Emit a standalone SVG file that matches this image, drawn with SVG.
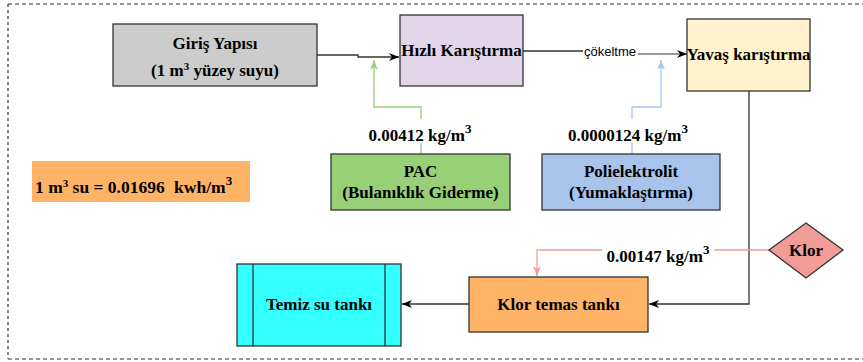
<svg xmlns="http://www.w3.org/2000/svg" width="863" height="362" viewBox="0 0 863 362">
<defs>
<style>
.t{font-family:"Liberation Serif","Times New Roman","DejaVu Serif",serif;font-weight:bold;font-size:17px;fill:#000;text-anchor:middle}
.s{font-family:"Liberation Sans",Arial,sans-serif;font-size:13px;fill:#000;text-anchor:middle}
.box{stroke:#333;stroke-width:1.3}
.e{fill:none;stroke-width:1.3}
</style>
<marker id="ak" viewBox="0 0 10 10" refX="10" refY="5" markerWidth="10" markerHeight="10" orient="auto" markerUnits="userSpaceOnUse"><path d="M0,1 L10,5 L0,9 L3,5 Z" fill="#000"/></marker>
<marker id="ag" viewBox="0 0 10 10" refX="10" refY="5" markerWidth="10" markerHeight="10" orient="auto" markerUnits="userSpaceOnUse"><path d="M0,1 L10,5 L0,9 L3,5 Z" fill="#97d077"/></marker>
<marker id="ab" viewBox="0 0 10 10" refX="10" refY="5" markerWidth="10" markerHeight="10" orient="auto" markerUnits="userSpaceOnUse"><path d="M0,1 L10,5 L0,9 L3,5 Z" fill="#a9c4eb"/></marker>
<marker id="ap" viewBox="0 0 10 10" refX="10" refY="5" markerWidth="10" markerHeight="10" orient="auto" markerUnits="userSpaceOnUse"><path d="M0,1 L10,5 L0,9 L3,5 Z" fill="#f19c99"/></marker>
</defs>
<rect width="863" height="362" fill="#fff"/>
<g id="border" fill="none" stroke="#333" stroke-width="1.2">
<path d="M8,4 H863" stroke-dasharray="4,3"/>
<path d="M8,359 H863" stroke-dasharray="4,3"/>
<path d="M8,4 V359" stroke-dasharray="3,3"/>
</g>
<g id="connectors">
<path class="e" d="M317,55 H358 V57 H399" stroke="#333" marker-end="url(#ak)"/>
<path class="e" d="M421,154 V107 H374 V60" stroke="#97d077" marker-end="url(#ag)"/>
<path class="e" d="M523,51 H583" stroke="#333"/>
<path class="e" d="M638,54 H687" stroke="#777" stroke-width="2" marker-end="url(#ak)"/>
<text class="s" x="610" y="56">çökeltme</text>
<path class="e" d="M632,154 V107 H661 V60" stroke="#a9c4eb" marker-end="url(#ab)"/>
<path class="e" d="M749,91 V304 H649" stroke="#333" marker-end="url(#ak)"/>
<path class="e" d="M769,250 H537 V276" stroke="#f19c99" marker-end="url(#ap)"/>
<path class="e" d="M469,304 H402" stroke="#333" marker-end="url(#ak)"/>
<rect x="364" y="119" width="112" height="24" fill="#fff"/>
<text class="t" x="420" y="141">0.00412 kg/m<tspan font-size="13" dy="-8">3</tspan></text>
<rect x="563" y="119" width="130" height="24" fill="#fff"/>
<text class="t" x="628" y="141">0.0000124 kg/m<tspan font-size="13" dy="-8">3</tspan></text>
<rect x="602" y="241" width="112" height="24" fill="#fff"/>
<text class="t" x="658" y="262">0.00147 kg/m<tspan font-size="13" dy="-8">3</tspan></text>
</g>
<g id="giris">
<rect class="box" x="113" y="24" width="204" height="62" fill="#cccccc"/>
<text class="t" x="215" y="49">Giriş Yapısı</text>
<text class="t" x="215" y="76">(1 m<tspan font-size="11" dy="-6">3</tspan><tspan dy="6"> yüzey suyu)</tspan></text>
</g>
<g id="hizli">
<rect class="box" x="400" y="15" width="123" height="71" fill="#e1d5e7"/>
<text class="t" x="461.5" y="56">Hızlı Karıştırma</text>
</g>
<g id="yavas">
<rect class="box" x="687" y="19" width="123" height="72" fill="#fff2cc"/>
<text class="t" x="748.5" y="60">Yavaş karıştırma</text>
</g>
<g id="pac">
<rect class="box" x="331" y="154" width="179" height="56" fill="#97d077"/>
<text class="t" x="420.5" y="177">PAC</text>
<text class="t" x="420.5" y="198">(Bulanıklık Giderme)</text>
</g>
<g id="poli">
<rect class="box" x="542" y="154" width="178" height="56" fill="#a9c4eb"/>
<text class="t" x="631" y="177">Polielektrolit</text>
<text class="t" x="631" y="198">(Yumaklaştırma)</text>
</g>
<g id="enerji">
<rect x="32" y="161" width="218" height="41" fill="#ffb366"/>
<text class="t" x="35" y="193" style="text-anchor:start;font-size:17.5px">1 m<tspan font-size="11" dy="-6">3</tspan><tspan dy="6"> su = 0.01696</tspan><tspan dx="5"> kwh/m</tspan><tspan font-size="13" dy="-8">3</tspan></text>
</g>
<g id="klor">
<polygon class="box" points="806,223 843,250 806,278 769,250" fill="#f19c99"/>
<text class="t" x="806" y="256">Klor</text>
</g>
<g id="klortemas">
<rect class="box" x="469" y="277" width="179" height="55" fill="#ffb366"/>
<text class="t" x="558.5" y="310">Klor temas tankı</text>
</g>
<g id="temiz">
<rect class="box" x="237" y="264" width="164" height="82" fill="#33ffff"/>
<line class="box" x1="253" y1="264" x2="253" y2="346"/>
<line class="box" x1="385" y1="264" x2="385" y2="346"/>
<text class="t" x="319" y="310">Temiz su tankı</text>
</g>
</svg>
